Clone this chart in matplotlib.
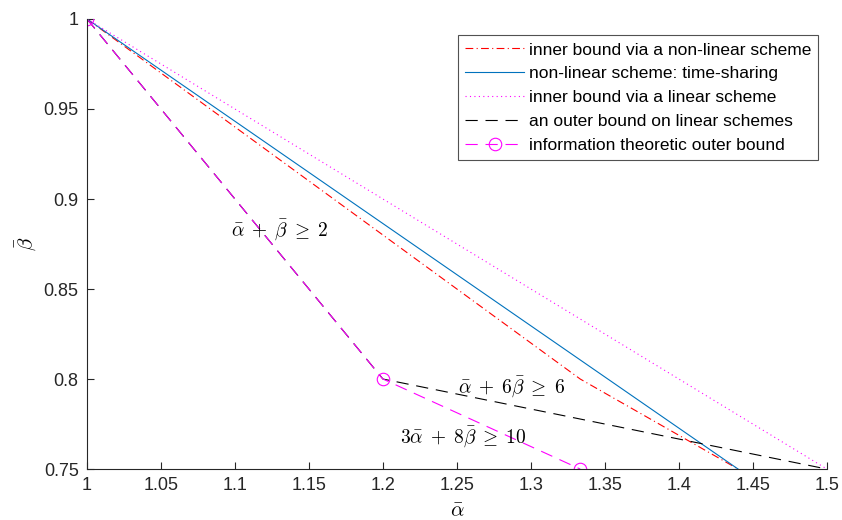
import numpy as np
import matplotlib
matplotlib.use("Agg")
import matplotlib.pyplot as plt

plt.rcParams["font.family"] = ["Liberation Sans", "DejaVu Sans"]
plt.rcParams["mathtext.fontset"] = "cm"

# data (alpha_bar, beta_bar)
nonlin_x = [1.0, 4 / 3, 1.44]
nonlin_y = [1.0, 0.8, 0.75]
ts_x = [1.0, 1.44]
ts_y = [1.0, 0.75]
lin_x = [1.0, 1.5]
lin_y = [1.0, 0.75]
outer_lin_x = [1.0, 1.2, 1.5]
outer_lin_y = [1.0, 0.8, 0.75]
info_x = [1.0, 1.2, 4 / 3]
info_y = [1.0, 0.8, 0.75]

labels = [
    "inner bound via a non-linear scheme",
    "non-linear scheme: time-sharing",
    "inner bound via a linear scheme",
    "an outer bound on linear schemes",
    "information theoretic outer bound",
]

fig = plt.figure(figsize=(8.42, 5.2), dpi=100)
ax = fig.add_axes([0.1033, 0.098, 0.8787, 0.8655])

ax.plot(nonlin_x, nonlin_y, color="red", linestyle=(0, (7, 3, 1, 3)), lw=0.8, label=labels[0])
ax.plot(ts_x, ts_y, color="#0072bd", linestyle="-", lw=0.8, label=labels[1])
ax.plot(lin_x, lin_y, color="magenta", linestyle=(0, (1, 3)), lw=0.8, label=labels[2])
ax.plot(outer_lin_x, outer_lin_y, color="black", linestyle=(0, (11, 7)), lw=0.8, label=labels[3])
ax.plot(info_x, info_y, color="magenta", linestyle=(0, (11, 7)), lw=0.8,
        marker="o", markersize=9, markerfacecolor="none", markeredgewidth=0.8,
        label=labels[4])

ax.text(1.097, 0.883, r"$\bar\alpha\;+\;\bar\beta\;\geq\;2$", fontsize=14, va="center")
ax.text(1.2507, 0.7956, r"$\bar\alpha\;+\;6\bar\beta\;\geq\;6$", fontsize=14, va="center")
ax.text(1.2115, 0.7678, r"$3\bar\alpha\;+\;8\bar\beta\;\geq\;10$", fontsize=14, va="center")

ax.set_xlim(1, 1.5)
ax.set_ylim(0.75, 1)
ax.set_xticks(np.arange(1, 1.5001, 0.05))
ax.set_yticks(np.arange(0.75, 1.0001, 0.05))
ax.set_xticklabels(["1", "1.05", "1.1", "1.15", "1.2", "1.25", "1.3", "1.35", "1.4", "1.45", "1.5"])
ax.set_yticklabels(["0.75", "0.8", "0.85", "0.9", "0.95", "1"])
ax.tick_params(direction="in", length=5, width=0.8, colors="#262626", labelsize=13, pad=6)
for s in ["top", "right"]:
    ax.spines[s].set_visible(False)
for s in ["left", "bottom"]:
    ax.spines[s].set_color("#262626")
    ax.spines[s].set_linewidth(0.8)

ax.set_xlabel(r"$\bar\alpha$", fontsize=15, labelpad=5)
ax.set_ylabel(r"$\bar\beta$", fontsize=15, labelpad=4)

leg = ax.legend(loc="upper right", bbox_to_anchor=(0.995, 0.975), fontsize=12.5,
                frameon=True, fancybox=False, handlelength=3.4, handletextpad=0.25,
                borderpad=0.4, labelspacing=0.5, borderaxespad=0.3)
leg.get_frame().set_edgecolor("#262626")
leg.get_frame().set_linewidth(0.8)

plt.savefig("out.png", dpi=100)
